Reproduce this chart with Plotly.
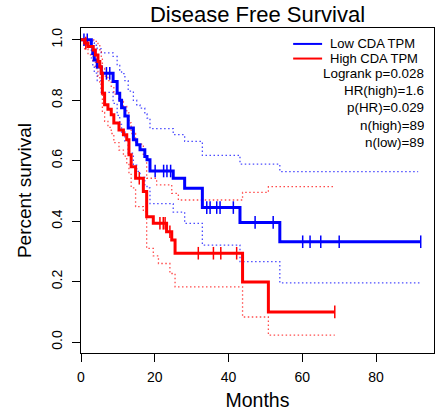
import numpy as np
import plotly.graph_objects as go

# Kaplan-Meier curves (months, survival)
low_t = [0, 2.8, 3.2, 3.6, 4.4, 5.5, 8.7, 9.8, 10.5, 11.0, 11.9, 12.8, 14.2, 15.1, 16.0,
         17.3, 17.9, 18.7, 25.0, 28.1, 32.9, 43.1, 53.9, 92.1]
low_s = [1.0, 0.978, 0.955, 0.933, 0.91, 0.889, 0.862, 0.823, 0.80, 0.775, 0.748, 0.708, 0.669,
         0.653, 0.636, 0.614, 0.603, 0.566, 0.542, 0.509, 0.445, 0.396, 0.332, 0.332]
low_censor = [0.8, 1.7, 6.9, 7.8, 20.1, 22.4, 23.3, 24.3, 34.1, 35.0, 36.8, 37.7, 41.3,
              47.2, 52.1, 60.1, 62.1, 65.0, 70.0, 92.1]

high_t = [0, 1.0, 1.9, 3.3, 3.9, 4.6, 5.1, 5.5, 5.8, 6.4, 7.3, 8.2, 8.9, 10.3, 11.5, 12.4,
          13.0, 13.6, 14.8, 16.9, 17.8, 19.6, 23.2, 24.6, 25.5, 43.8, 50.8, 68.8]
high_s = [1.0, 0.989, 0.978, 0.966, 0.95, 0.928, 0.911, 0.889, 0.823, 0.785, 0.77, 0.752, 0.725,
          0.702, 0.686, 0.669, 0.62, 0.58, 0.542, 0.498, 0.415, 0.393, 0.365, 0.338, 0.294,
          0.199, 0.100, 0.100]
high_censor = [1.3, 15.8, 21.4, 22.3, 22.8, 24.1, 31.8, 35.9, 37.9, 42.2, 68.8]

# 95% confidence bands (dotted)
low_up_t = [0, 2.8, 3.2, 3.6, 4.4, 5.5, 8.7, 9.8, 10.5, 11.0, 11.9, 12.8, 14.2, 15.1, 16.0,
            17.3, 17.9, 18.7, 25.0, 28.1, 32.9, 43.1, 53.9, 91.4]
low_up_s = [1.0, 0.998, 0.99, 0.982, 0.97, 0.957, 0.945, 0.915, 0.9, 0.888, 0.865, 0.83, 0.80,
            0.785, 0.774, 0.755, 0.741, 0.706, 0.686, 0.664, 0.618, 0.589, 0.564, 0.564]
low_lo_t = [0, 2.8, 3.2, 3.6, 4.4, 5.5, 8.7, 9.8, 10.5, 11.0, 11.9, 12.8, 14.2, 15.1, 16.0,
            17.3, 17.9, 18.7, 25.0, 28.1, 32.9, 43.1, 53.9, 91.9]
low_lo_s = [1.0, 0.94, 0.915, 0.89, 0.865, 0.826, 0.79, 0.75, 0.72, 0.695, 0.665, 0.625, 0.585,
            0.565, 0.545, 0.52, 0.51, 0.458, 0.43, 0.393, 0.321, 0.266, 0.196, 0.196]

high_up_t = [0, 3.9, 4.6, 5.1, 5.5, 5.8, 6.4, 7.3, 8.2, 8.9, 10.3, 11.5, 12.4, 13.0, 13.6,
             14.8, 16.9, 17.8, 20.5, 24.6, 26.4, 43.8, 50.8, 68.8]
high_up_s = [1.0, 0.995, 0.985, 0.96, 0.945, 0.905, 0.88, 0.865, 0.846, 0.82, 0.796, 0.78,
             0.758, 0.725, 0.69, 0.655, 0.614, 0.542, 0.52, 0.492, 0.47, 0.495, 0.514, 0.514]
high_lo_t = [0, 1.0, 1.9, 3.3, 3.9, 4.6, 5.1, 5.5, 5.8, 6.4, 7.3, 8.2, 8.9, 10.3, 11.5, 12.4,
             13.0, 13.6, 14.8, 16.9, 17.8, 19.6, 21.0, 24.1, 25.5, 43.8, 50.8, 68.8]
high_lo_s = [1.0, 0.97, 0.95, 0.93, 0.905, 0.88, 0.86, 0.835, 0.76, 0.73, 0.71, 0.69, 0.66,
             0.635, 0.615, 0.59, 0.555, 0.51, 0.448, 0.432, 0.31, 0.285, 0.26, 0.227, 0.183,
             0.083, 0.023, 0.023]

groups = ["Low CDA TPM", "High CDA TPM"]
stats = ["Logrank p=0.028", "HR(high)=1.6", "p(HR)=0.029", "n(high)=89", "n(low)=89"]

FONT = "Liberation Sans"
BLUE = "#0000ff"
RED = "#ff0000"


def step_at(times, surv, x):
    # survival value of a right-continuous step curve at x
    idx = np.searchsorted(np.asarray(times), np.asarray(x), side="right") - 1
    return np.asarray(surv)[idx]


fig = go.Figure()

for t, s, col in [(low_up_t, low_up_s, BLUE), (low_lo_t, low_lo_s, BLUE),
                  (high_up_t, high_up_s, RED), (high_lo_t, high_lo_s, RED)]:
    fig.add_trace(go.Scatter(x=t, y=s, mode="lines", line_shape="hv",
                             line=dict(color=col, width=1.3, dash="1.5px,2.5px"),
                             opacity=0.7, showlegend=False, hoverinfo="skip"))

for t, s, cens, col in [(low_t, low_s, low_censor, BLUE), (high_t, high_s, high_censor, RED)]:
    fig.add_trace(go.Scatter(x=t, y=s, mode="lines", line_shape="hv",
                             line=dict(color=col, width=3), showlegend=False))
    fig.add_trace(go.Scatter(x=cens, y=step_at(t, s, cens), mode="markers",
                             marker=dict(symbol="line-ns", size=9,
                                         line=dict(color=col, width=1.5)),
                             showlegend=False))

# legend block in the top-right corner, R style (tight line spacing)
fig.add_shape(type="line", xref="paper", yref="paper", x0=0.601, x1=0.683, y0=0.951, y1=0.951,
              line=dict(color=BLUE, width=2))
fig.add_shape(type="line", xref="paper", yref="paper", x0=0.601, x1=0.683, y0=0.906, y1=0.906,
              line=dict(color=RED, width=2))
legend_text = "<br>".join('<span style="font-size:13px">%s</span>' % g for g in groups)
fig.add_annotation(text=legend_text, xref="paper", yref="paper", x=0.699, y=0.9285,
                   xanchor="left", yanchor="middle", align="left", showarrow=False,
                   font=dict(size=11.25))
for i, label in enumerate(stats):
    fig.add_annotation(text=label, xref="paper", yref="paper", x=0.977, y=0.859 - i * 0.0525,
                       height=15, xanchor="right", yanchor="middle", showarrow=False)

fig.update_layout(
    width=438, height=417,
    margin=dict(l=81, r=4, t=28, b=64),
    plot_bgcolor="white", paper_bgcolor="white",
    font=dict(family=FONT, size=13.4, color="black"),
    title=dict(text="Disease Free Survival", x=0.5, xref="paper", y=0.965,
               yanchor="middle", font=dict(size=22)),
    showlegend=False,
)
fig.update_xaxes(range=[0, 95.7], tickvals=[0, 20, 40, 60, 80], ticks="outside", ticklen=8,
                 tickfont=dict(size=14), showgrid=False, zeroline=False, showline=True,
                 mirror=True, linecolor="black", linewidth=1, tickcolor="black",
                 automargin=False, ticklabelstandoff=3,
                 title=dict(text="Months", font=dict(size=19.5), standoff=9))
fig.update_yaxes(range=[-0.036, 1.039], tickvals=[0, 0.2, 0.4, 0.6, 0.8, 1.0],
                 ticktext=["0.0", "0.2", "0.4", "0.6", "0.8", "1.0"], tickangle=-90,
                 ticks="outside", ticklen=8, tickfont=dict(size=14), showgrid=False,
                 zeroline=False, showline=True, mirror=True, linecolor="black", linewidth=1,
                 tickcolor="black", automargin=False, ticklabelstandoff=4,
                 title=dict(text="Percent survival", font=dict(size=19), standoff=12))

fig.write_html("out.html", config={"displayModeBar": False},
               post_script="document.body.style.margin='0';")
